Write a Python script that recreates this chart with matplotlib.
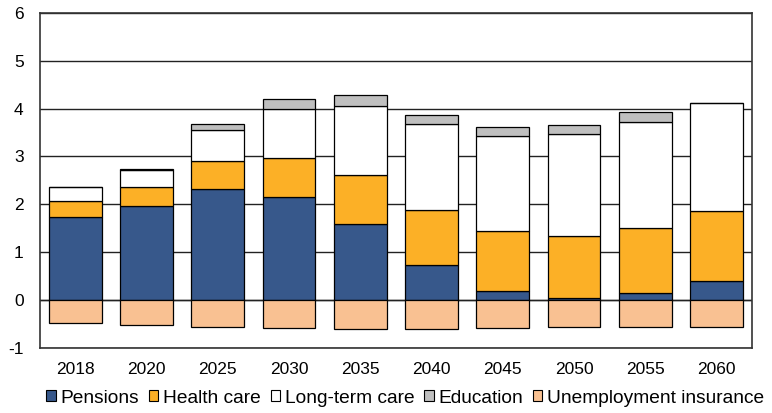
import matplotlib
matplotlib.use("Agg")
import matplotlib.pyplot as plt
import numpy as np
from matplotlib.patches import Patch

plt.rcParams['font.family'] = ['Liberation Sans', 'DejaVu Sans']
plt.rcParams['axes.unicode_minus'] = False

years = ["2018", "2020", "2025", "2030", "2035", "2040", "2045", "2050", "2055", "2060"]
pensions = [1.74, 1.96, 2.31, 2.15, 1.58, 0.72, 0.19, 0.04, 0.14, 0.40]
health_care = [0.32, 0.39, 0.59, 0.81, 1.02, 1.15, 1.24, 1.30, 1.37, 1.45]
long_term_care = [0.29, 0.37, 0.65, 1.02, 1.45, 1.81, 2.00, 2.13, 2.20, 2.27]
education = [0.00, 0.02, 0.13, 0.21, 0.23, 0.19, 0.18, 0.18, 0.22, 0.00]
unemployment = [-0.48, -0.52, -0.56, -0.59, -0.61, -0.60, -0.585, -0.56, -0.56, -0.56]

series = [
    ("Pensions", pensions, "#37588B"),
    ("Health care", health_care, "#FCB026"),
    ("Long-term care", long_term_care, "#FFFFFF"),
    ("Education", education, "#BFBFBF"),
]

fig = plt.figure(figsize=(7.72, 4.13), dpi=100)
ax = fig.add_axes([0.0512, 0.158, 0.9233, 0.811])

x = np.arange(len(years))
width = 0.74
bottom = np.zeros(len(years))
handles = []
for name, vals, color in series:
    vals = np.array(vals)
    ax.bar(x, vals, width, bottom=bottom, color=color, edgecolor="black",
           linewidth=0.9, zorder=3)
    bottom += vals
    handles.append(Patch(facecolor=color, edgecolor="black", linewidth=0.8, label=name))

ax.bar(x, unemployment, width, color="#F9C192", edgecolor="black",
       linewidth=0.9, zorder=3)
handles.append(Patch(facecolor="#F9C192", edgecolor="black", linewidth=0.8,
                     label="Unemployment insurance"))

ax.set_xlim(-0.5, len(years) - 0.5)
ax.set_ylim(-1, 6)
ax.set_yticks(range(-1, 7))
ax.set_xticks(x)
ax.set_xticklabels(years)
ax.yaxis.grid(True, color="#222222", linewidth=1.0, zorder=0)
ax.axhline(0, color="#222222", linewidth=1.0, zorder=2)
ax.tick_params(axis="both", length=0, labelsize=12.5, colors="black")
ax.tick_params(axis="x", pad=10)
ax.tick_params(axis="y", pad=11.5)
for s in ax.spines.values():
    s.set_color("#333333")
    s.set_linewidth(1.2)

fig.legend(handles=handles, loc="center", bbox_to_anchor=(0.525, 0.036), ncol=5,
           frameon=False, fontsize=13.8, handlelength=0.5, handleheight=0.5,
           handletextpad=0.25, columnspacing=0.5, borderaxespad=0, borderpad=0)

fig.savefig("out.png", dpi=100)
